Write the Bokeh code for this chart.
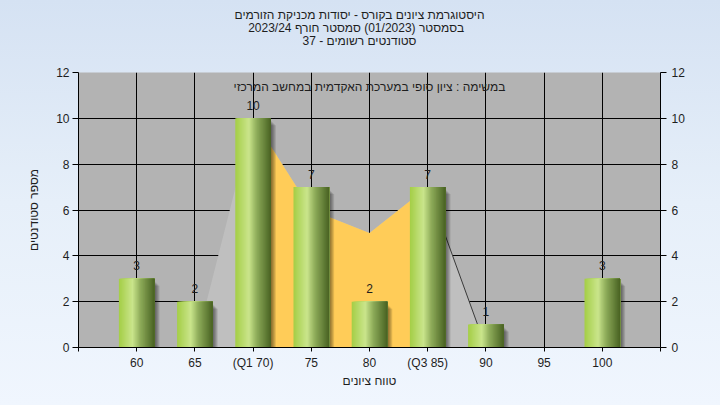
from bokeh.plotting import figure
from bokeh.models import Range1d, FixedTicker, LinearAxis, Label, Title, ColumnDataSource
from bokeh.embed import file_html
from bokeh.resources import INLINE
from bokeh.core.properties import value

# ---------------- data ----------------
categories = ["60", "65", "(Q1 70)", "75", "80", "(Q3 85)", "90", "95", "100"]
counts = [3, 2, 10, 7, 2, 7, 1, 0, 3]
curve = [0, 0, 10, 6, 5, 7, 0, 0, 0]
q1_index = 2
q3_index = 5
y_ticks = [0, 2, 4, 6, 8, 10, 12]
title_lines = [
    "היסטוגרמת ציונים בקורס - יסודות מכניקת הזורמים",
    "בסמסטר  (01/2023)  סמסטר חורף 2023/24",
    "סטודנטים רשומים - 37",
]
inner_note = "במשימה : ציון סופי במערכת האקדמית במחשב המרכזי"
x_title = "טווח ציונים"
y_title = "מספר סטודנטים"

# ---------------- styling ----------------
FONT = "Liberation Sans"
TXT = "#1e1e1e"
bar_stops = [(0.0, (164, 206, 70)), (0.38, (202, 229, 140)), (0.6, (142, 172, 90)),
             (1.0, (72, 98, 34))]
BAR_W = 0.612
N_STRIPS = 30
PX_X = 10 / 582.0   # data units per pixel (x)
PX_Y = 12 / 275.0   # data units per pixel (y)
TITLE_PAD = "\u00a0" * 6   # trailing pad shifts the centred title a little to the left

idx = list(range(len(categories)))

p = figure(width=720, height=405, output_backend="svg", toolbar_location=None,
           x_range=Range1d(-1, len(categories)), y_range=Range1d(0, 12),
           min_border_left=78, min_border_right=60, min_border_bottom=58, min_border_top=72)
p.stylesheets = [":host { background: linear-gradient(180deg, #d5e2f3 0%, #e6eff9 50%, #f0f6fe 100%); }"]
p.background_fill_color = "#b3b3b3"
p.border_fill_color = None
p.outline_line_color = None

# titles: stacked outward from the frame (spacer first)
p.add_layout(Title(text=" ", standoff=10, text_font=FONT, text_font_size="12px"), "above")
for line in reversed(title_lines):
    p.add_layout(Title(text=line + TITLE_PAD, align="center", standoff=-3.5,
                       text_font=FONT, text_font_size="12px", text_font_style="normal",
                       text_color=TXT), "above")

# grid
xt = FixedTicker(ticks=list(range(-1, len(categories) + 1)))
yt = FixedTicker(ticks=y_ticks)
p.xgrid.ticker = xt
p.ygrid.ticker = yt
for g in (p.xgrid, p.ygrid):
    g.grid_line_color = "black"
    g.grid_line_alpha = 1.0
    g.grid_line_width = 1

# areas behind bars
p.varea(x=idx[q1_index - 1:q3_index + 2], y1=0, y2=curve[q1_index - 1:q3_index + 2], fill_color="#bfbfbf")
p.varea(x=idx[q1_index:q3_index + 1], y1=0, y2=curve[q1_index:q3_index + 1], fill_color="#ffcc58")
p.line(idx[q3_index:], curve[q3_index:], line_color="#3a3a3a", line_width=1)
p.line(idx[:q1_index], curve[:q1_index], line_color="#3a3a3a", line_width=1)

# bar shadows
for k in range(1, 6):
    p.quad(left=[i - BAR_W / 2 + k * PX_X for i in idx], right=[i + BAR_W / 2 + k * PX_X for i in idx],
           top=[max(c - (k + 2) * PX_Y, 0) for c in counts], bottom=0,
           fill_color="black", fill_alpha=0.11, line_color=None)


def grad(t):
    for (t0, c0), (t1, c1) in zip(bar_stops[:-1], bar_stops[1:]):
        if t0 <= t <= t1:
            f = (t - t0) / (t1 - t0)
            return "#%02x%02x%02x" % tuple(int(round(a + (b - a) * f)) for a, b in zip(c0, c1))
    return "#%02x%02x%02x" % bar_stops[-1][1]


sw = BAR_W / N_STRIPS
for k in range(N_STRIPS):
    t = (k + 0.5) / N_STRIPS
    p.quad(left=[i - BAR_W / 2 + k * sw for i in idx], right=[i + BAR_W / 2 for i in idx],
           top=counts, bottom=0, fill_color=grad(t), line_color=None)

# value labels
lab = ColumnDataSource(dict(x=[i for i, c in zip(idx, counts) if c > 0],
                            y=[c for c in counts if c > 0],
                            t=[str(c) for c in counts if c > 0]))
p.text(x="x", y="y", text="t", source=lab, text_align="center", text_baseline="alphabetic",
       y_offset=-13, text_font_size="12px", text_font=value(FONT), text_color=TXT)

p.add_layout(Label(x=(len(categories) - 1) / 2, y=12 - 14 * PX_Y, text=inner_note, text_align="center",
                   text_baseline="middle", text_font=FONT, text_font_size="12px", text_color=TXT))

# axes
xa = p.xaxis[0]
xa.ticker = xt
overrides = {i: c for i, c in zip(idx, categories)}
overrides[-1] = ""
overrides[len(categories)] = ""
xa.major_label_overrides = overrides
xa.axis_label = x_title

ya = p.yaxis[0]
ya.ticker = yt
ya.axis_label = y_title

ra = LinearAxis(ticker=yt)
p.add_layout(ra, "right")

for ax in (xa, ya, ra):
    ax.axis_line_color = "black"
    ax.major_tick_line_color = "black"
    ax.major_tick_in = 0
    ax.minor_tick_line_color = None
    ax.major_label_text_font = FONT
    ax.major_label_text_font_size = "12px"
    ax.major_label_text_color = TXT
    ax.axis_label_text_font = FONT
    ax.axis_label_text_font_size = "12px"
    ax.axis_label_text_font_style = "normal"
    ax.axis_label_text_color = TXT

xa.major_tick_out = 4
xa.major_label_standoff = 4
xa.axis_label_standoff = 1
ya.major_tick_out = 6
ya.major_label_standoff = 3
ya.axis_label_standoff = 12
ra.major_tick_out = 6
ra.major_label_standoff = 5

open("out.html", "w").write(file_html(p, INLINE))
